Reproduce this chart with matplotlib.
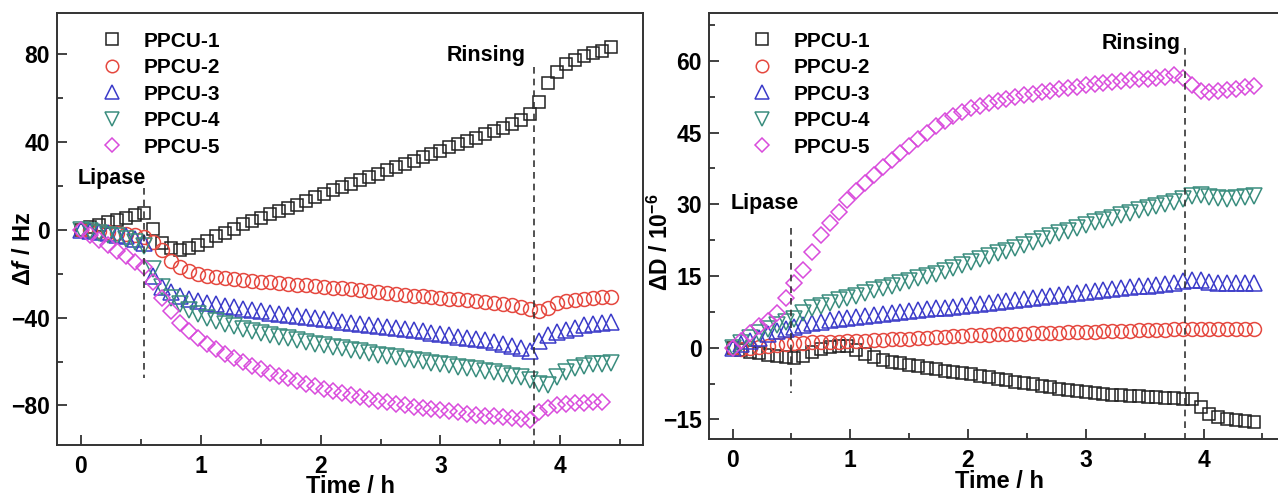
import matplotlib
matplotlib.use("Agg")
import matplotlib.pyplot as plt
from matplotlib.ticker import MultipleLocator

plt.rcParams['font.family'] = ['Liberation Sans', 'DejaVu Sans']
plt.rcParams['font.weight'] = 'bold'
plt.rcParams['mathtext.fontset'] = 'custom'
plt.rcParams['mathtext.rm'] = 'Liberation Sans:bold'
plt.rcParams['mathtext.it'] = 'Liberation Sans:italic:bold'
plt.rcParams['mathtext.bf'] = 'Liberation Sans:bold'

# ---------------- data ----------------
time_h = [0, 0.075, 0.15, 0.225, 0.3, 0.375, 0.45, 0.525, 0.6, 0.675,
          0.75, 0.825, 0.9, 0.975, 1.05, 1.125, 1.2, 1.275, 1.35, 1.425,
          1.5, 1.575, 1.65, 1.725, 1.8, 1.875, 1.95, 2.025, 2.1, 2.175,
          2.25, 2.325, 2.4, 2.475, 2.55, 2.625, 2.7, 2.775, 2.85, 2.925,
          3.0, 3.075, 3.15, 3.225, 3.3, 3.375, 3.45, 3.525, 3.6, 3.675,
          3.75, 3.825, 3.9, 3.975, 4.05, 4.125, 4.2, 4.275, 4.35, 4.425]

labels = ['PPCU-1', 'PPCU-2', 'PPCU-3', 'PPCU-4', 'PPCU-5']

# Delta f / Hz
df_ppcu1 = [0, 1.2, 2.3, 3.5, 4.5, 5.5, 6.5, 7.5, 0.5, -6,
            -8.5, -9, -8.5, -7, -5, -3, -1.5, 0.5, 2.5, 4,
            5.5, 7, 8.5, 10, 11.5, 13, 15, 16.5, 18, 19.5,
            21, 22.5, 24, 25.5, 27, 28.5, 30, 31.5, 33, 34.5,
            36, 37.5, 39, 40.5, 42, 43.5, 45, 46.5, 48, 50,
            52.5, 58, 67, 72, 75.5, 77.5, 79, 80.5, 81.5, 83]
df_ppcu2 = [0, -0.3, -0.7, -1, -1.5, -2, -2.5, -3.5, -5.5, -9,
            -14, -17, -19, -20, -21, -21.5, -22, -22.5, -23, -23.3,
            -23.7, -24, -24.3, -24.6, -25, -25.3, -25.6, -26, -26.3, -26.6,
            -27, -27.5, -28, -28.5, -29, -29.3, -29.6, -30, -30.3, -30.6,
            -31, -31.3, -31.6, -32, -32.3, -32.7, -33.2, -33.7, -34.3, -35,
            -36.3, -37.2, -35.5, -33.5, -32.6, -31.9, -31.4, -31, -30.7, -30.5]
df_ppcu3 = [0, -0.5, -1, -1.5, -2.3, -3, -4, -6, -21, -26,
            -28.5, -30, -31.3, -32.5, -33.3, -34, -34.7, -35.3, -36, -36.6,
            -37.2, -37.8, -38.3, -38.8, -39.3, -39.8, -40.3, -40.8, -41.3, -41.8,
            -42.3, -42.8, -43.3, -43.8, -44.3, -44.8, -45.3, -45.8, -46.3, -46.8,
            -47.5, -48, -48.6, -49.2, -49.8, -50.4, -51, -51.8, -52.8, -54,
            -55, -50.5, -48, -46.5, -45.5, -44.5, -43.5, -43, -42.5, -42]
df_ppcu4 = [0, -0.7, -1.4, -2.2, -3, -4, -5.5, -7.5, -18, -26,
            -31, -34, -36.5, -38.5, -40, -41.5, -42.8, -44, -45, -46,
            -47, -47.8, -48.6, -49.4, -50.2, -51, -51.8, -52.6, -53.3, -54,
            -54.7, -55.4, -56.1, -56.8, -57.5, -58.1, -58.7, -59.3, -59.9, -60.5,
            -61.1, -61.7, -62.3, -62.9, -63.5, -64.2, -64.9, -65.6, -66.4, -67.2,
            -68.5, -70, -70.5, -67, -64.7, -63, -62, -61.3, -61, -60.8]
df_ppcu5 = [0, -2.3, -4.6, -7, -9.5, -12, -14.5, -17, -24, -31,
            -37, -42.5, -46, -49.5, -52, -54.5, -56.5, -58.5, -60.3, -62,
            -63.6, -65, -66.4, -67.7, -69, -70.2, -71.3, -72.4, -73.4, -74.4,
            -75.3, -76.2, -77, -77.8, -78.5, -79.2, -79.9, -80.5, -81.1, -81.7,
            -82.2, -82.7, -83.2, -83.7, -84.2, -84.6, -85, -85.4, -85.8, -86.2,
            -86.6, -83, -81, -80, -79.5, -79, -78.7, -78.4, -78.2]

# Delta D / 1e-6
dd_ppcu1 = [0, -0.4, -0.8, -1.2, -1.5, -1.8, -2, -2.2, -1.8, -0.8,
            -0.3, 0.2, 0.4, 0.3, -0.5, -1.3, -2, -2.6, -3, -3.3,
            -3.6, -3.9, -4.2, -4.5, -4.8, -5, -5.3, -5.6, -5.9, -6.2,
            -6.5, -6.8, -7.1, -7.4, -7.7, -8, -8.3, -8.6, -8.9, -9.1,
            -9.3, -9.5, -9.7, -9.9, -10, -10.1, -10.2, -10.3, -10.4, -10.5,
            -10.6, -10.7, -10.8, -12.4, -13.8, -14.5, -14.9, -15.2, -15.4, -15.6]
dd_ppcu2 = [0, -0.2, 0, 0.2, 0.4, 0.6, 0.75, 0.9, 1.0, 1.1,
            1.15, 1.2, 1.25, 1.3, 1.4, 1.5, 1.6, 1.65, 1.75, 1.85,
            1.9, 2.0, 2.1, 2.2, 2.3, 2.4, 2.5, 2.6, 2.65, 2.7,
            2.8, 2.85, 2.9, 2.95, 3.0, 3.05, 3.1, 3.15, 3.2, 3.25,
            3.3, 3.35, 3.4, 3.45, 3.5, 3.55, 3.6, 3.65, 3.7, 3.8,
            3.9, 4.0, 4.0, 4.0, 4.0, 4.0, 4.0, 4.0, 4.0, 4.0]
dd_ppcu3 = [0, 0.7, 1.4, 2.1, 2.8, 3.4, 3.9, 4.3, 4.7, 5.1,
            5.4, 5.7, 6.0, 6.2, 6.4, 6.6, 6.8, 7.0, 7.2, 7.4,
            7.6, 7.8, 8.0, 8.2, 8.4, 8.6, 8.8, 9.0, 9.2, 9.4,
            9.6, 9.8, 10.0, 10.2, 10.4, 10.6, 10.8, 11.0, 11.2, 11.4,
            11.6, 11.8, 12.0, 12.2, 12.4, 12.6, 12.8, 13.0, 13.2, 13.4,
            13.6, 13.9, 14.2, 14.1, 13.8, 13.6, 13.5, 13.5, 13.5, 13.5]
dd_ppcu4 = [0, 1.0, 2.0, 3.0, 4.0, 4.7, 5.3, 6.0, 7.2, 8.2,
            8.8, 9.4, 9.9, 10.4, 10.9, 11.4, 12.0, 12.5, 13.0, 13.5,
            14.0, 14.5, 15.0, 15.5, 16.1, 16.7, 17.3, 17.9, 18.5, 19.1,
            19.7, 20.3, 20.9, 21.5, 22.1, 22.7, 23.3, 23.9, 24.5, 25.1,
            25.7, 26.2, 26.7, 27.2, 27.7, 28.2, 28.7, 29.2, 29.6, 30.0,
            30.5, 31.2, 31.8, 32.0, 31.6, 31.3, 31.2, 31.3, 31.5, 31.7]
dd_ppcu5 = [0, 1.5, 3.0, 4.6, 5.6, 7.2, 10.3, 13.5, 16.3, 20.0,
            23.5, 26.0, 28.4, 30.8, 32.8, 34.5, 36.2, 37.8, 39.3, 40.8,
            42.2, 43.6, 45.0, 46.3, 47.5, 48.5, 49.3, 50.1, 50.6, 51.1,
            51.6, 52.0, 52.4, 52.8, 53.1, 53.4, 53.7, 54.0, 54.3, 54.6,
            54.9, 55.1, 55.3, 55.5, 55.7, 55.9, 56.1, 56.3, 56.5, 56.7,
            57.0, 56.5, 55.0, 53.7, 53.4, 53.6, 53.9, 54.2, 54.5, 54.8]

# ---------------- style ----------------
colors = ['#222222', '#e5483f', '#3b3bc9', '#3a8d7e', '#d94bdc']
markers = ['s', 'o', '^', 'v', 'D']
msizes = [9.0, 10.0, 11.0, 11.0, 8.2]
leg_msizes = [8.0, 9.0, 10.0, 10.0, 7.5]
spine_c = '#333333'

fig = plt.figure(figsize=(12.78, 4.96), dpi=100)
axL = fig.add_axes([57/1278, 1-445/496, (643-57)/1278, (445-13)/496])
axR = fig.add_axes([709/1278, 1-439/496, (1286-709)/1278, (439-13)/496])


def style(ax, ymaj, ymin):
    for s in ax.spines.values():
        s.set_linewidth(1.4)
        s.set_color(spine_c)
    ax.xaxis.set_major_locator(MultipleLocator(1))
    ax.xaxis.set_minor_locator(MultipleLocator(0.5))
    ax.yaxis.set_major_locator(MultipleLocator(ymaj))
    ax.yaxis.set_minor_locator(MultipleLocator(ymin))
    ax.tick_params(which='both', direction='in', top=False, right=False,
                   color=spine_c, width=1.3)
    ax.tick_params(which='major', length=7)
    ax.tick_params(which='minor', length=4.5)
    ax.tick_params(axis='y', which='major', labelsize=16.5, pad=5)
    ax.tick_params(axis='x', which='major', labelsize=16.5, pad=7)
    for lab in ax.get_xticklabels() + ax.get_yticklabels():
        lab.set_fontweight('bold')


def draw(ax, series):
    for y, lab, c, m, ms in zip(series, labels, colors, markers, msizes):
        ax.plot(time_h[:len(y)], y, linestyle='none', marker=m, ms=ms,
                mfc='none', mec=c, mew=1.1, label=lab)


draw(axL, [df_ppcu1, df_ppcu2, df_ppcu3, df_ppcu4, df_ppcu5])
draw(axR, [dd_ppcu1, dd_ppcu2, dd_ppcu3, dd_ppcu4, dd_ppcu5])

axL.set_xlim(-0.2, 4.69)
axL.set_ylim(-98, 98.7)
axR.set_xlim(-0.2, 4.7)
axR.set_ylim(-19.1, 70)
style(axL, 40, 20)
style(axR, 15, 7.5)

dash = dict(color='#333333', lw=1.2, linestyle=(0, (4, 3)))
axL.plot([0.53, 0.53], [19, -67.5], **dash)
axL.plot([3.78, 3.78], [74, -98], **dash)
axR.plot([0.5, 0.5], [25, -9.5], **dash)
axR.plot([3.84, 3.84], [62.7, -19.1], **dash)

axL.text(0.54, 23.5, 'Lipase', fontsize=15.5, fontweight='bold', ha='right', va='center')
axL.text(3.71, 79.5, 'Rinsing', fontsize=15.5, fontweight='bold', ha='right', va='center')
axR.text(0.56, 30.2, 'Lipase', fontsize=15.5, fontweight='bold', ha='right', va='center')
axR.text(3.47, 63.6, 'Rinsing', fontsize=15.5, fontweight='bold', ha='center', va='center')

axL.set_xlabel('Time / h', fontsize=17, fontweight='bold')
axR.set_xlabel('Time / h', fontsize=17, fontweight='bold')
axL.set_ylabel(r'Δ$\mathit{f}$ / Hz', fontsize=17, fontweight='bold')
axR.set_ylabel(r'ΔD / 10$^{\mathrm{-6}}$', fontsize=16.5, fontweight='bold')
axL.xaxis.set_label_coords(0.5, -0.07)
axR.xaxis.set_label_coords((999-709)/577, -0.073)
axL.yaxis.set_label_coords(-0.038, 0.454)
axR.yaxis.set_label_coords(-0.062, 0.462)

for ax, fx, fy in [(axL, 0.073, 0.957), (axR, 0.071, 0.956)]:
    leg = ax.legend(loc='upper left', bbox_to_anchor=(fx, fy), frameon=False,
                    handlelength=1.2, handletextpad=0.9, labelspacing=0.36,
                    borderpad=0, borderaxespad=0,
                    prop={'weight': 'bold', 'size': 15})
    for h, s in zip(leg.legend_handles, leg_msizes):
        h.set_markersize(s)

fig.savefig('out.png', dpi=100)
